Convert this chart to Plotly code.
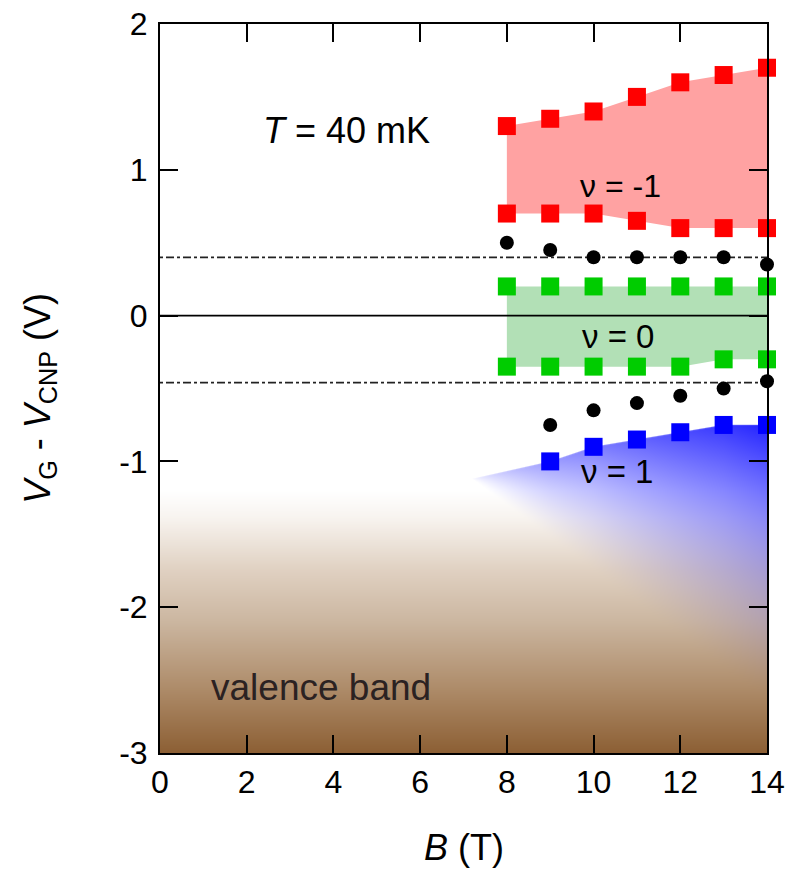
import base64
import struct
import zlib

import numpy as np
import plotly.graph_objects as go

# ---------------------------------------------------------------- data
B = [8, 9, 10, 11, 12, 13, 14]                                # field (T)
nu_m1_upper = [1.30, 1.35, 1.40, 1.50, 1.60, 1.65, 1.70]      # nu = -1 gap, upper edge
nu_m1_lower = [0.70, 0.70, 0.70, 0.65, 0.60, 0.60, 0.60]      # nu = -1 gap, lower edge
peak_upper = [0.50, 0.45, 0.40, 0.40, 0.40, 0.40, 0.35]       # upper resistance peaks
nu0_upper = [0.20, 0.20, 0.20, 0.20, 0.20, 0.20, 0.20]        # nu = 0 gap, upper edge
nu0_lower = [-0.35, -0.35, -0.35, -0.35, -0.35, -0.30, -0.30] # nu = 0 gap, lower edge

B_low = [9, 10, 11, 12, 13, 14]
peak_lower = [-0.75, -0.65, -0.60, -0.55, -0.50, -0.45]       # lower resistance peaks
nu1_edge = [-1.00, -0.90, -0.85, -0.80, -0.75, -0.75]         # nu = 1 edge

dotted_levels = [0.40, -0.46]                                 # dashed reference levels

x_ticks = [0, 2, 4, 6, 8, 10, 12, 14]
y_ticks = [-3, -2, -1, 0, 1, 2]
y_ticklabels = ["-3", "-2", "-1", "0", "1", "2"]

# ------------------------------------------------- shaded background
# valence band (vertical brown gradient) + nu = 1 wedge (blue fade)
X_MAX = 14.0
IMG_TOP, IMG_BOT = -0.6, -3.0
W, H = 607, 350
VB_TOP = -1.2
vb_pos = [0.0, 0.1, 0.3, 0.5, 0.75, 1.0]
vb_r = [255, 248, 224, 203, 174, 140]
vb_g = [255, 244, 209, 182, 140, 95]
vb_b = [255, 240, 194, 160, 106, 52]

APEX_X, APEX_Y = 7.2, -1.12
WEDGE_END_Y = -2.66
BLUE = np.array([25.0, 25.0, 255.0])

xs = (np.arange(W) + 0.5) / W * X_MAX
ys = IMG_TOP - (np.arange(H) + 0.5) / H * (IMG_TOP - IMG_BOT)
XX, YY = np.meshgrid(xs, ys)

t = np.clip((VB_TOP - YY) / (VB_TOP - IMG_BOT), 0, 1)
base = np.stack([np.interp(t, vb_pos, vb_r),
                 np.interp(t, vb_pos, vb_g),
                 np.interp(t, vb_pos, vb_b)], axis=-1)
base_mask = YY <= VB_TOP

top = np.interp(XX, [APEX_X] + B_low, [APEX_Y] + nu1_edge)
bot = APEX_Y + (XX - APEX_X) * (WEDGE_END_Y - APEX_Y) / (X_MAX - APEX_X)
r = np.clip((XX - APEX_X) / (X_MAX - APEX_X), 0, 1)
u = np.clip((top - YY) / np.maximum(top - bot, 1e-6), 0, 1)
edge = np.clip((top - YY) / 0.008 + 0.5, 0, 1)
inside = (XX > APEX_X) & (YY >= bot - 0.01)
alpha_blue = 0.95 * r ** 0.6 * (1 - u) ** 1.6 * edge * inside

rgb = base * (1 - alpha_blue[..., None]) + BLUE * alpha_blue[..., None]
opaque = base_mask | (alpha_blue > 0.002)
rgba = np.zeros((H, W, 4), dtype=np.uint8)
rgba[..., :3] = np.clip(np.round(rgb), 0, 255).astype(np.uint8)
rgba[..., 3] = np.where(opaque, 255, 0).astype(np.uint8)


def png_uri(arr):
    h, w, _ = arr.shape
    raw = b"".join(b"\x00" + arr[i].tobytes() for i in range(h))

    def chunk(tag, data):
        return (struct.pack(">I", len(data)) + tag + data
                + struct.pack(">I", zlib.crc32(tag + data) & 0xFFFFFFFF))

    png = (b"\x89PNG\r\n\x1a\n"
           + chunk(b"IHDR", struct.pack(">IIBBBBB", w, h, 8, 6, 0, 0, 0))
           + chunk(b"IDAT", zlib.compress(raw, 9))
           + chunk(b"IEND", b""))
    return "data:image/png;base64," + base64.b64encode(png).decode()


# ---------------------------------------------------------------- figure
fig = go.Figure()

# gap regions
fig.add_trace(go.Scatter(
    x=B + B[::-1], y=nu_m1_upper + nu_m1_lower[::-1], mode="lines",
    fill="toself", fillcolor="rgb(255,162,162)", line=dict(width=0),
    hoverinfo="skip"))
fig.add_trace(go.Scatter(
    x=B + B[::-1], y=nu0_upper + nu0_lower[::-1], mode="lines",
    fill="toself", fillcolor="rgb(178,224,182)", line=dict(width=0),
    hoverinfo="skip"))

# zero line and dashed reference levels
fig.add_trace(go.Scatter(x=[0, X_MAX], y=[0, 0], mode="lines",
                         line=dict(color="black", width=1.6), hoverinfo="skip"))
for lvl in dotted_levels:
    fig.add_trace(go.Scatter(x=[0, X_MAX], y=[lvl, lvl], mode="lines",
                             line=dict(color="#222222", width=1.8,
                                       dash="3px,3px,8px,3px"),
                             hoverinfo="skip"))

sq = dict(symbol="square", size=18, line=dict(width=0))
marker_sets = [
    (B, nu_m1_upper, dict(color="#ff0000", **sq)),
    (B, nu_m1_lower, dict(color="#ff0000", **sq)),
    (B, nu0_upper, dict(color="#00cc00", **sq)),
    (B, nu0_lower, dict(color="#00cc00", **sq)),
    (B_low, nu1_edge, dict(color="#0000ff", **sq)),
    (B, peak_upper, dict(color="black", size=14, symbol="circle")),
    (B_low, peak_lower, dict(color="black", size=14, symbol="circle")),
]
for xv, yv, mk in marker_sets:
    fig.add_trace(go.Scatter(x=xv, y=yv, mode="markers", marker=mk,
                             cliponaxis=False))

fig.add_layout_image(dict(
    source=png_uri(rgba), xref="x", yref="y", x=0, y=IMG_TOP,
    sizex=X_MAX, sizey=IMG_TOP - IMG_BOT, xanchor="left", yanchor="top",
    sizing="stretch", layer="below"))

FONT = "Liberation Sans, Arial, Helvetica, sans-serif"
annotations = [
    dict(x=4.29, y=1.27, text="<i>T</i> = 40 mK", size=36, color="black"),
    dict(x=10.62, y=0.89, text="\u03bd = -1", size=32, color="black"),
    dict(x=10.57, y=-0.14, text="\u03bd = 0", size=33, color="black"),
    dict(x=10.55, y=-1.07, text="\u03bd = 1", size=33, color="black"),
    dict(x=3.71, y=-2.55, text="valence band", size=37, color="#2b2222"),
]
for a in annotations:
    fig.add_annotation(
        x=a["x"], y=a["y"], text=a["text"], xref="x", yref="y",
        showarrow=False, xanchor="center", yanchor="middle",
        font=dict(family=FONT, size=a["size"], color=a["color"]))

# axis titles
fig.add_annotation(
    xref="paper", yref="paper", x=-0.198, y=0.487, showarrow=False,
    text="<i>V</i><sub>G</sub> - <i>V</i><sub>CNP</sub> (V)", textangle=-90,
    xanchor="center", yanchor="middle",
    font=dict(family=FONT, size=36, color="black"))
fig.add_annotation(
    xref="paper", yref="paper", x=0.5, y=-0.13, showarrow=False,
    text="<i>B</i> (T)", xanchor="center", yanchor="middle",
    font=dict(family=FONT, size=36, color="black"))

axis_common = dict(showline=True, linewidth=2, linecolor="black",
                   mirror="ticks", ticks="inside", ticklen=18, tickwidth=2,
                   tickcolor="black", showgrid=False, zeroline=False,
                   automargin=False,
                   tickfont=dict(family=FONT, size=32, color="black"))
fig.update_xaxes(range=[0, X_MAX], tickvals=x_ticks, **axis_common)
fig.update_yaxes(range=[-3, 2], tickvals=y_ticks, ticktext=y_ticklabels,
                 ticklabelstandoff=4, **axis_common)

fig.update_layout(
    template="none",
    width=790, height=876, margin=dict(l=160, r=23, t=24, b=123),
    paper_bgcolor="white", plot_bgcolor="rgba(0,0,0,0)", showlegend=False,
    font=dict(family=FONT, size=32, color="black"))

fig.write_html("out.html")
